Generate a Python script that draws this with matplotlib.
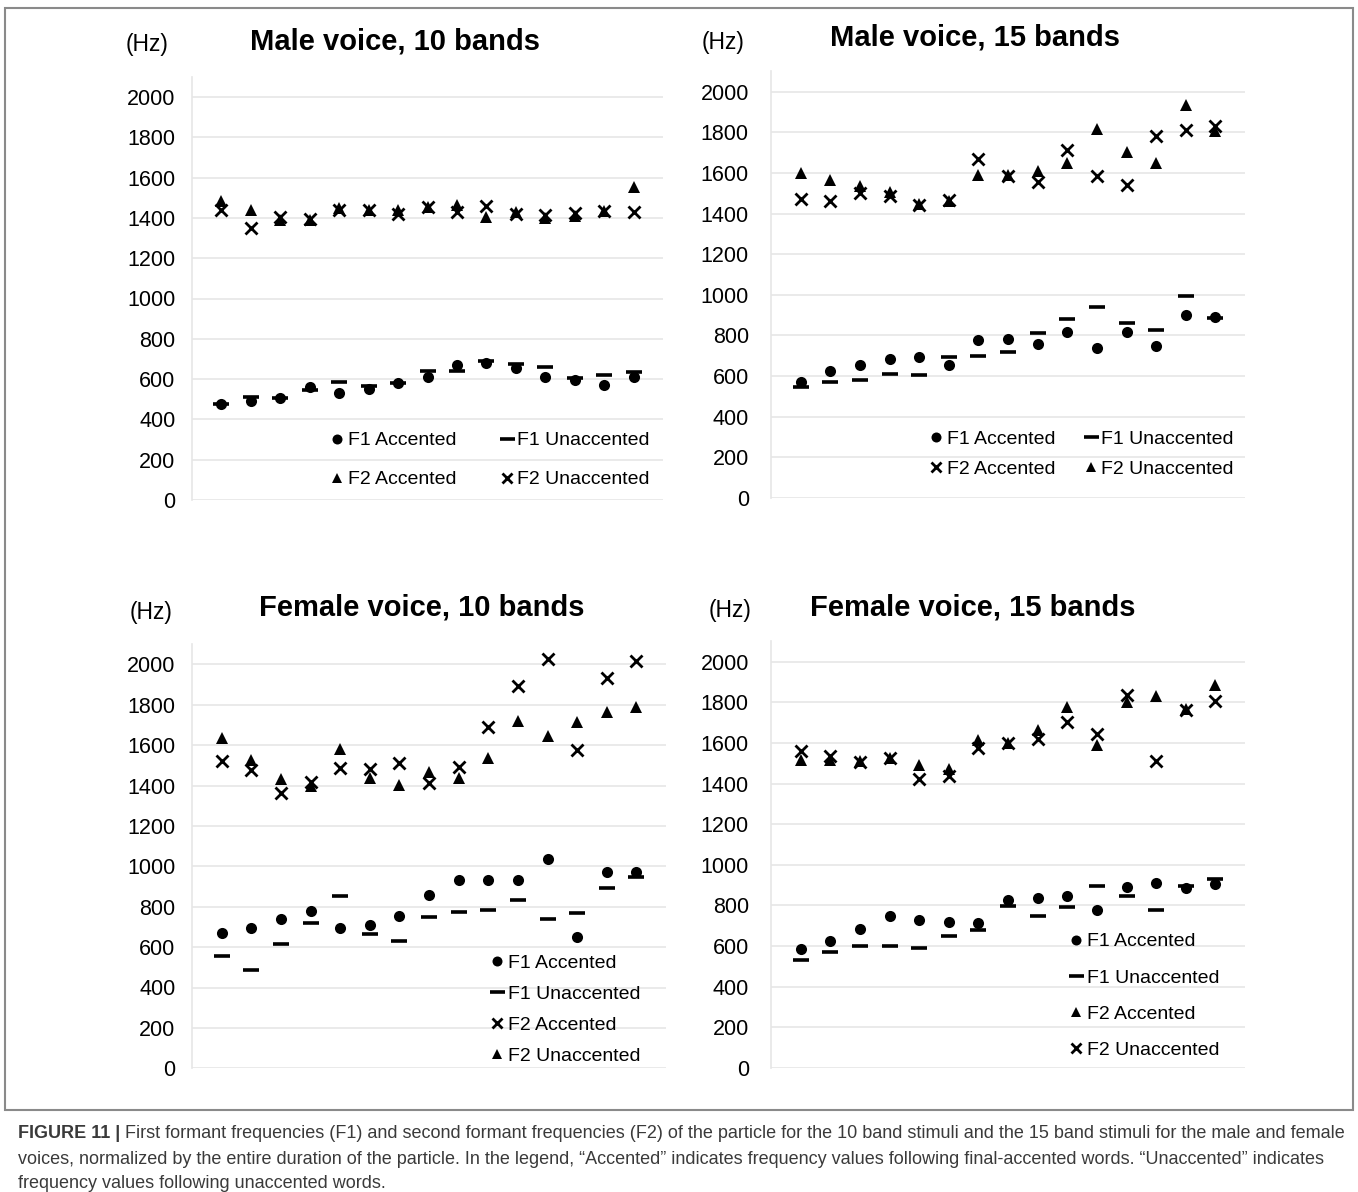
import numpy as np
import matplotlib.pyplot as plt
from matplotlib.lines import Line2D
from matplotlib.patches import Rectangle

W, H = 1358, 1192
plt.rcParams['font.family'] = ['Liberation Sans', 'DejaVu Sans']

bands = np.arange(1, 16)

# Male voice, 10 bands
m10_f1_acc = [478, 492, 508, 560, 530, 550, 583, 608, 670, 680, 653, 610, 595, 572, 608]
m10_f1_unacc = [478, 512, 508, 545, 587, 567, 583, 642, 640, 690, 675, 658, 605, 620, 635]
m10_f2_acc = [1485, 1437, 1390, 1390, 1450, 1440, 1437, 1452, 1462, 1405, 1430, 1400, 1410, 1435, 1555]
m10_f2_unacc = [1440, 1348, 1405, 1393, 1440, 1440, 1418, 1455, 1430, 1460, 1420, 1415, 1425, 1435, 1430]

# Male voice, 15 bands
m15_f1_acc = [572, 627, 653, 685, 693, 657, 780, 784, 760, 818, 739, 816, 747, 900, 893]
m15_f1_unacc = [547, 570, 580, 612, 607, 695, 701, 721, 810, 879, 942, 859, 825, 994, 888]
m15_f2_acc = [1472, 1464, 1500, 1485, 1442, 1465, 1670, 1585, 1554, 1715, 1587, 1543, 1784, 1813, 1830]
m15_f2_unacc = [1600, 1567, 1534, 1505, 1447, 1462, 1588, 1592, 1611, 1649, 1818, 1702, 1649, 1933, 1805]

# Female voice, 10 bands
f10_f1_acc = [671, 693, 737, 780, 697, 709, 755, 858, 932, 932, 932, 1035, 651, 970, 970]
f10_f1_unacc = [557, 486, 613, 717, 855, 663, 630, 747, 772, 783, 833, 737, 767, 894, 949]
f10_f2_acc = [1521, 1476, 1365, 1418, 1489, 1484, 1509, 1410, 1492, 1688, 1893, 2026, 1575, 1934, 2018]
f10_f2_unacc = [1633, 1526, 1430, 1397, 1580, 1435, 1402, 1468, 1438, 1534, 1721, 1645, 1716, 1765, 1787]

# Female voice, 15 bands
f15_f1_acc = [584, 622, 683, 746, 729, 718, 713, 825, 836, 844, 775, 890, 910, 885, 905]
f15_f1_unacc = [532, 568, 598, 598, 588, 650, 677, 795, 749, 790, 897, 848, 775, 895, 932]
f15_f2_acc = [1518, 1518, 1510, 1524, 1493, 1470, 1615, 1600, 1666, 1777, 1592, 1800, 1830, 1765, 1884]
f15_f2_unacc = [1560, 1535, 1508, 1526, 1420, 1435, 1575, 1600, 1620, 1703, 1644, 1838, 1513, 1762, 1805]

y_ticks = list(range(0, 2001, 200))

STYLE = {
    'circle': dict(marker='o', ms=8, mew=0),
    'dash': dict(marker='_', ms=12, mew=2.6),
    'tri': dict(marker='^', ms=8.5, mew=0),
    'x': dict(marker='x', ms=8, mew=2.0),
}

fig = plt.figure(figsize=(W / 100, H / 100), dpi=100)


def make_ax(left, right, y0, y2000, pad):
    # y0 / y2000: pixel rows of the 0 and 2000 Hz gridlines
    per = (y0 - y2000) / 2000.0
    top = y0 - 2100 * per
    ax = fig.add_axes([left / W, 1 - y0 / H, (right - left) / W, (y0 - top) / H])
    ax.set_xlim(0, 16)
    ax.set_ylim(0, 2100)
    ax.set_yticks(y_ticks)
    ax.set_xticks([])
    ax.grid(axis='y', color='#e6e6e6', lw=1.2)
    ax.set_axisbelow(True)
    for s in ['top', 'right', 'bottom']:
        ax.spines[s].set_visible(False)
    ax.spines['left'].set_color('#e6e6e6')
    ax.spines['left'].set_linewidth(1.2)
    ax.tick_params(axis='y', length=0, pad=pad, labelsize=15.5, labelcolor='black')
    return ax


def draw(ax, series, legend_order, anchor, ncol, spacing, colsp):
    handles = {}
    for label, vals, kind in series:
        ax.plot(bands, vals, ls='none', color='black', **STYLE[kind])
        handles[label] = Line2D([], [], ls='none', color='black', **STYLE[kind])
    ax.legend([handles[l] for l in legend_order], legend_order,
              loc='center left', bbox_to_anchor=(anchor[0] / W, 1 - anchor[1] / H),
              bbox_transform=fig.transFigure, ncol=ncol, frameon=False,
              fontsize=14, handlelength=0.45, handletextpad=0.3,
              labelspacing=spacing, columnspacing=colsp, markerscale=0.9,
              borderpad=0, borderaxespad=0)


def heading(x_hz, y_hz, x_t, y_t, title):
    fig.text(x_hz / W, 1 - y_hz / H, '(Hz)', fontsize=16.5, ha='center', va='center')
    fig.text(x_t / W, 1 - y_t / H, title, fontsize=21, fontweight='bold',
             ha='center', va='center')


# top left
ax = make_ax(192, 663, 500, 97, 12)
draw(ax, [('F1 Accented', m10_f1_acc, 'circle'), ('F1 Unaccented', m10_f1_unacc, 'dash'),
          ('F2 Accented', m10_f2_acc, 'tri'), ('F2 Unaccented', m10_f2_unacc, 'x')],
     ['F1 Accented', 'F2 Accented', 'F1 Unaccented', 'F2 Unaccented'],
     (333, 460), 2, 1.1, 2.4)
heading(147, 45, 395, 42, 'Male voice, 10 bands')

# top right
ax = make_ax(771, 1245, 498, 91.7, 16)
draw(ax, [('F1 Accented', m15_f1_acc, 'circle'), ('F1 Unaccented', m15_f1_unacc, 'dash'),
          ('F2 Accented', m15_f2_acc, 'x'), ('F2 Unaccented', m15_f2_unacc, 'tri')],
     ['F1 Accented', 'F2 Accented', 'F1 Unaccented', 'F2 Unaccented'],
     (932, 454), 2, 0.66, 1.6)
heading(723, 42, 975, 38, 'Male voice, 15 bands')

# bottom left
ax = make_ax(192, 666, 1068.3, 664.3, 12)
draw(ax, [('F1 Accented', f10_f1_acc, 'circle'), ('F1 Unaccented', f10_f1_unacc, 'dash'),
          ('F2 Accented', f10_f2_acc, 'x'), ('F2 Unaccented', f10_f2_unacc, 'tri')],
     ['F1 Accented', 'F1 Unaccented', 'F2 Accented', 'F2 Unaccented'],
     (493, 1009.5), 1, 0.68, 1.0)
heading(151, 613, 422, 608, 'Female voice, 10 bands')

# bottom right
ax = make_ax(771, 1245, 1067.7, 661.7, 16)
draw(ax, [('F1 Accented', f15_f1_acc, 'circle'), ('F1 Unaccented', f15_f1_unacc, 'dash'),
          ('F2 Accented', f15_f2_acc, 'tri'), ('F2 Unaccented', f15_f2_unacc, 'x')],
     ['F1 Accented', 'F1 Unaccented', 'F2 Accented', 'F2 Unaccented'],
     (1072, 996), 1, 0.96, 1.0)
heading(730, 610, 973, 608, 'Female voice, 15 bands')

# frame and caption
fig.patches.append(Rectangle((5 / W, 1 - 1110 / H), 1348 / W, 1102 / H,
                             transform=fig.transFigure, fill=False,
                             edgecolor='#8a8a8a', lw=1.5))

cap_font = ['Liberation Sans Narrow', 'Liberation Sans']
cap_color = '#3a3a3a'
lines = [
    'First formant frequencies (F1) and second formant frequencies (F2) of the particle for the 10 band stimuli and the 15 band stimuli for the male and female',
    'voices, normalized by the entire duration of the particle. In the legend, \u201cAccented\u201d indicates frequency values following final-accented words. \u201cUnaccented\u201d indicates',
    'frequency values following unaccented words.',
]
renderer = fig.canvas.get_renderer()
bold = fig.text(18 / W, 1 - 1133 / H, 'FIGURE 11 | ', family=cap_font, fontsize=13,
                fontweight='bold', color=cap_color, va='center')
bb = bold.get_window_extent(renderer)
fig.text(bb.x1 / W, 1 - 1133 / H, lines[0], family=cap_font, fontsize=13,
         color=cap_color, va='center')
fig.text(18 / W, 1 - 1160 / H, lines[1], family=cap_font, fontsize=13,
         color=cap_color, va='center')
fig.text(18 / W, 1 - 1184 / H, lines[2], family=cap_font, fontsize=13,
         color=cap_color, va='center')

fig.savefig('out.png', dpi=100)
